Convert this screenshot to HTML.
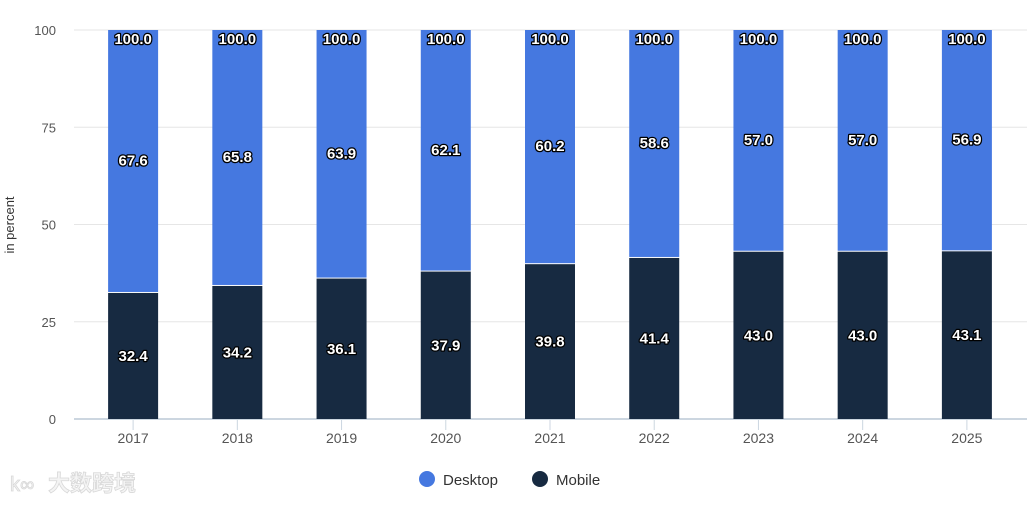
<!DOCTYPE html>
<html><head><meta charset="utf-8"><style>
body{margin:0;background:#fff;font-family:"Liberation Sans","Noto Sans CJK SC",sans-serif}
svg text{font-family:"Liberation Sans","Noto Sans CJK SC",sans-serif}
</style></head><body>
<svg id="c" width="1031" height="500"></svg>
<script>
const categories=["2017","2018","2019","2020","2021","2022","2023","2024","2025"];
const mobile=[32.4,34.2,36.1,37.9,39.8,41.4,43.0,43.0,43.1];
const desktop=[67.6,65.8,63.9,62.1,60.2,58.6,57.0,57.0,56.9];
const yTicks=[0,25,50,75,100];
const NS="http://www.w3.org/2000/svg",svg=document.getElementById('c');
function mk(t,a,txt){const e=document.createElementNS(NS,t);for(const k in a)e.setAttribute(k,a[k]);if(txt!=null)e.textContent=txt;svg.appendChild(e);return e;}
const x0=81,x1=1019,yB=419,yT=30,band=(x1-x0)/categories.length,bw=50;
const y=v=>yB-(v/100)*(yB-yT);
const xc=i=>x0+band*(i+0.5);
yTicks.forEach(t=>{
 const g=mk('line',{x1:74,x2:1027,y1:y(t),y2:y(t),stroke:t===0?'#ccd6e0':'#e6e6e6','stroke-width':t===0?2:1});
 
 const l=mk('text',{x:56,y:y(t)+5,'text-anchor':'end','font-size':13,fill:'#555'},t);
 
});
const yt=mk('text',{x:14,y:225,'text-anchor':'middle','font-size':13,fill:'#333',transform:'rotate(-90 14 225)'},'in percent');

function lbl(x,yy,s){const t=mk('text',{x:x,y:yy,'text-anchor':'middle','font-size':15,'font-weight':'bold',fill:'#fff',stroke:'#000','stroke-width':2.5,'paint-order':'stroke','stroke-linejoin':'round'},s);
 }
categories.forEach((c,i)=>{
 const cx=xc(i),m=mobile[i],d=desktop[i];
 const r1=mk('rect',{x:cx-bw/2,y:y(m),width:bw,height:yB-y(m),fill:'#172a41'});
 
 const r2=mk('rect',{x:cx-bw/2,y:y(m+d),width:bw,height:y(m)-y(m+d)-1,fill:'#4578e0'});
 
 lbl(cx,(y(m)+yB)/2+5,m.toFixed(1));
 lbl(cx,(y(m)+y(m+d))/2+4,d.toFixed(1));
 lbl(cx,y(m+d)+14,(m+d).toFixed(1));
 const tk=mk('line',{x1:cx,x2:cx,y1:420,y2:430,stroke:'#ccd6e0'});
 
 const xl=mk('text',{x:cx,y:443,'text-anchor':'middle','font-size':14,fill:'#555'},c);
 
});
const le=[['Desktop','#4578e0',427],['Mobile','#172a41',540]];
le.forEach(([n,col,x])=>{
 const c=mk('circle',{cx:x,cy:479,r:8,fill:col});
 const t=mk('text',{x:x+16,y:485,'font-size':15,fill:'#333'},n);
});
const w=mk('text',{x:48,y:491,'font-size':22,'font-weight':'bold',fill:'#f4f4f4',stroke:'#d8d8d8','stroke-width':0.8},'大数跨境');

const wl=mk('text',{x:10,y:491,'font-size':20,fill:'#f4f4f4',stroke:'#d8d8d8','stroke-width':0.8},'k∞');

</script>
</body></html>
